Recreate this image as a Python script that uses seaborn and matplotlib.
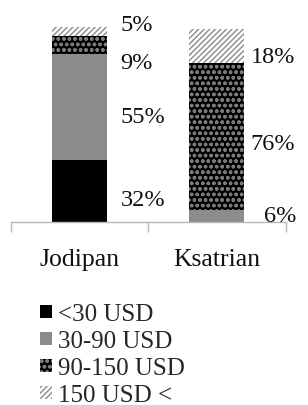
import numpy as np
import pandas as pd
import matplotlib
matplotlib.use("Agg")
import matplotlib.pyplot as plt
import seaborn as sns

# data
places = ["Jodipan", "Ksatrian"]
price_bands = ["<30 USD", "30-90 USD", "90-150 USD", "150 USD <"]
under_30 = [32, 0]
from_30_90 = [55, 6]
from_90_150 = [9, 76]
over_150 = [5, 18]

shares = [under_30, from_30_90, from_90_150, over_150]

# style of each band: face, hatch, hatch colour
styles = [
    ("#000000", "", "#000000"),
    ("#8c8c8c", "", "#8c8c8c"),
    ("#000000", "ooo", "#7a7a7a"),
    ("#ffffff", "//////", "#8a8a8a"),
]

# label nudges (data units) so labels sit like the original
nudge = [[-4.5, 0], [-4.8, 0.2], [-8.8, -3.5], [3.5, -5.2]]

sns.set_style("white")
plt.rcParams["font.family"] = ["Liberation Serif", "DejaVu Serif"]
plt.rcParams["hatch.linewidth"] = 1.0

fig = plt.figure(figsize=(3.08, 4.06), dpi=100)
ax = fig.add_axes([10.5 / 308, (406 - 223) / 406, 275 / 308, 203 / 406])

bottom = np.zeros(len(places))
for i, band in enumerate(price_bands):
    vals = np.array(shares[i], dtype=float)
    df = pd.DataFrame({"place": places, "share": vals})
    face, hatch, hcol = styles[i]
    sns.barplot(data=df, x="place", y="share", order=places, bottom=bottom,
                color=face, saturation=1, width=0.4, errorbar=None,
                hatch=hatch, edgecolor=hcol, linewidth=0, label=band, ax=ax)
    for j in range(len(places)):
        if vals[j] <= 0:
            continue
        xt = j + (0.3 if j == 0 else 0.245)
        if j == 1 and vals[j] < 10:
            xt += 0.1
        ax.text(xt, bottom[j] + vals[j] / 2 + nudge[i][j], f"{int(vals[j])}%",
                ha="left", va="center", fontsize=17.5, color="#111111")
    bottom = bottom + vals

ax.set_xlim(-0.5, 1.5)
ax.set_ylim(0, 105)
ax.set_xlabel("")
ax.set_ylabel("")
ax.set_yticks([])
for s in ["top", "right", "left"]:
    ax.spines[s].set_visible(False)
ax.spines["bottom"].set_color("#b8b8b8")
ax.spines["bottom"].set_linewidth(1.0)

ax.set_xticks([0, 1])
ax.set_xticklabels(places, fontsize=18.5, color="#111111")
ax.tick_params(axis="x", which="major", bottom=True, length=0, pad=19)
ax.set_xticks([-0.5, 0.5, 1.5], minor=True)
ax.tick_params(axis="x", which="minor", bottom=True, length=7.5, width=1.0,
               color="#b8b8b8", direction="out")

handles, labels = ax.get_legend_handles_labels()
if ax.get_legend() is not None:
    ax.get_legend().remove()
fig.legend(handles, labels, loc="upper left", bbox_to_anchor=(0.131, 0.25),
           frameon=False, fontsize=18, handlelength=0.45, handleheight=0.45,
           handletextpad=0.25, labelspacing=0.2, borderaxespad=0, borderpad=0)

fig.savefig("out.png", dpi=100, facecolor="white")
